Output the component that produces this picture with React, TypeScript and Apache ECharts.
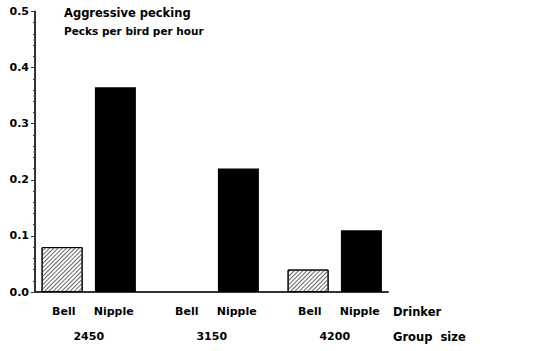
import React, { useEffect, useRef } from "react";
import * as echarts from "echarts";

const groupSizes = ["2450", "3150", "4200"];
const drinkers = ["Bell", "Nipple"];
const bellValues = [0.08, 0, 0.04];
const nippleValues = [0.365, 0.22, 0.11];
const yTicks = [0, 0.1, 0.2, 0.3, 0.4, 0.5];

const FONT = "DejaVu Sans";

export default function App() {
  const ref = useRef<HTMLDivElement>(null);
  useEffect(() => {
    if (!ref.current) return;
    const chart = echarts.init(ref.current, null, { renderer: "svg" });
    const top = 11.5;
    const bottom = 351 - 292;
    const option: any = {
      animation: false,
      backgroundColor: "#fff",
      title: {
        text: "Aggressive pecking",
        subtext: "Pecks per bird per hour",
        left: 64,
        top: 5,
        itemGap: 3,
        padding: 0,
        textStyle: { fontFamily: FONT, fontSize: 11.5, fontWeight: "bold", color: "#000", lineHeight: 16 },
        subtextStyle: { fontFamily: FONT, fontSize: 10.5, fontWeight: "bold", color: "#000", lineHeight: 13 },
      },
      grid: [
        { left: 35, right: 548 - 388, top, bottom },
        { left: 27.25, width: 369, top, bottom },
      ],
      xAxis: [
        {
          gridIndex: 0,
          type: "category",
          data: [""],
          axisLine: { show: true, lineStyle: { color: "#333", width: 2 } },
          axisTick: { show: false },
          axisLabel: { show: false },
        },
        {
          gridIndex: 1,
          type: "category",
          data: groupSizes,
          axisLine: { show: false },
          axisTick: { show: false },
          axisLabel: {
            margin: 7,
            formatter: (v: string) => `{d|${drinkers[0]}}{d|${drinkers[1]}}\n{g|${v}}`,
            rich: {
              d: { width: 50, align: "center", fontFamily: FONT, fontSize: 11, fontWeight: "bold", color: "#000", lineHeight: 25 },
              g: { fontFamily: FONT, fontSize: 11, fontWeight: "bold", color: "#000", lineHeight: 25 },
            },
          },
        },
      ],
      yAxis: [
        {
          gridIndex: 0,
          type: "value",
          min: yTicks[0],
          max: yTicks[yTicks.length - 1],
          interval: 0.1,
          axisLine: { show: true, lineStyle: { color: "#333", width: 2 } },
          axisTick: { show: true, length: 4, lineStyle: { color: "#333", width: 1 } },
          minorTick: { show: true, splitNumber: 5, length: 2, lineStyle: { color: "#333", width: 1 } },
          splitLine: { show: false },
          axisLabel: {
            margin: 6,
            formatter: (v: number) => v.toFixed(1),
            fontFamily: FONT,
            fontSize: 11,
            fontWeight: "bold",
            color: "#000",
          },
        },
        {
          gridIndex: 1,
          type: "value",
          min: yTicks[0],
          max: yTicks[yTicks.length - 1],
          show: false,
          splitLine: { show: false },
        },
      ],
      series: [
        {
          name: drinkers[0],
          type: "bar",
          xAxisIndex: 1,
          yAxisIndex: 1,
          data: bellValues.map((v) => (v === 0 ? { value: v, itemStyle: { borderWidth: 0 } } : v)),
          barWidth: 41,
          barGap: "30%",
          itemStyle: {
            color: "#fff",
            borderColor: "#000",
            borderWidth: 1,
            decal: {
              symbol: "rect",
              symbolSize: 1,
              color: "#666",
              backgroundColor: "#fff",
              dashArrayX: [1, 0],
              dashArrayY: [1, 1.8],
              rotation: -Math.PI / 4,
            },
          },
        },
        {
          name: drinkers[1],
          type: "bar",
          xAxisIndex: 1,
          yAxisIndex: 1,
          data: nippleValues,
          barWidth: 41,
          barGap: "30%",
          itemStyle: { color: "#000" },
        },
      ],
      graphic: [
        {
          type: "text",
          x: 393,
          y: 311.5,
          style: { text: "Drinker", font: `bold 11.5px '${FONT}'`, fill: "#000", verticalAlign: "middle" },
        },
        {
          type: "text",
          x: 393,
          y: 336.7,
          style: { text: "Group  size", font: `bold 11.5px '${FONT}'`, fill: "#000", verticalAlign: "middle" },
        },
      ],
    };
    chart.setOption(option);
    return () => chart.dispose();
  }, []);
  return (
    <div
      ref={ref}
      style={{ position: "absolute", left: 0, top: 0, width: 548, height: 351 }}
    />
  );
}
